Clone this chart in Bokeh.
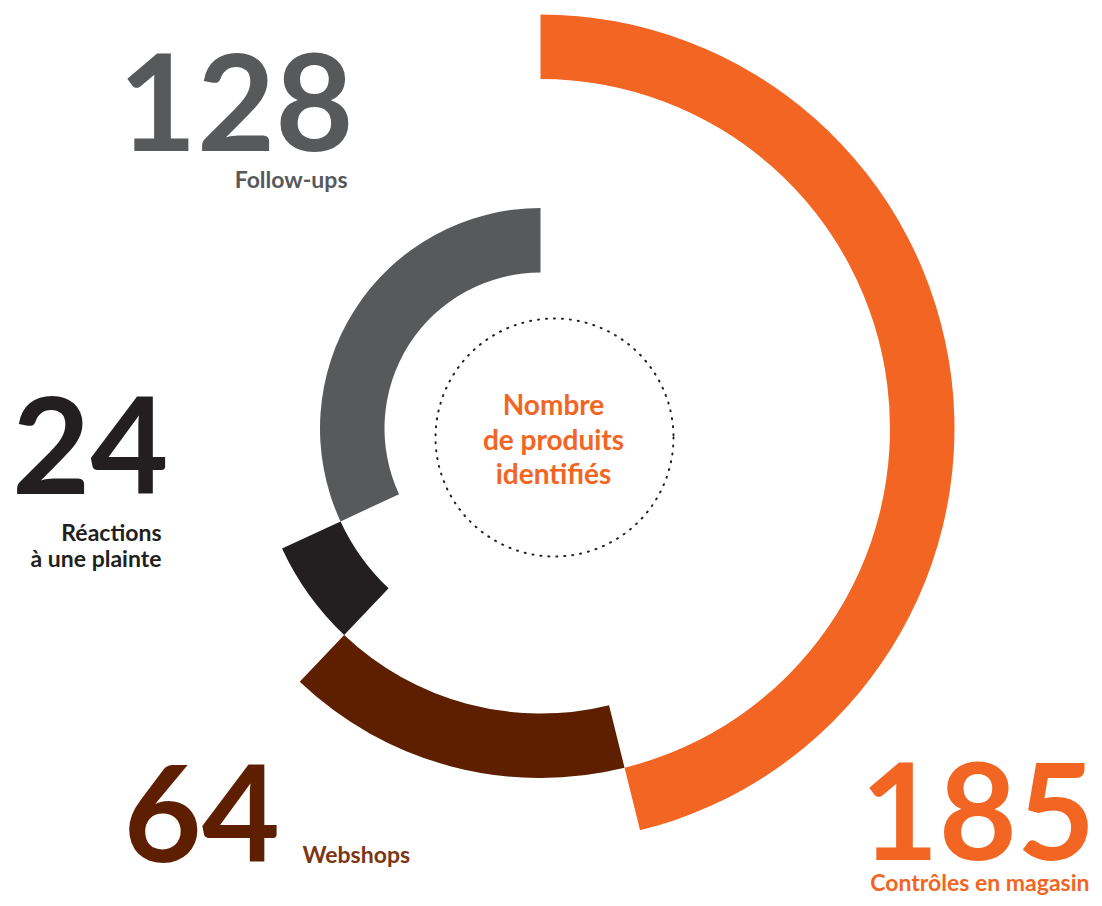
import math
from bokeh.plotting import figure
from bokeh.models import Range1d, ColumnDataSource
from bokeh.core.properties import value
from bokeh.embed import file_html
from bokeh.resources import INLINE

# ---- data ----
categories = ["Contrôles en magasin", "Webshops", "Réactions à une plainte", "Follow-ups"]
values = [185, 64, 24, 128]
colors = ["#f26522", "#5e1e00", "#231f20", "#58595b"]
label_colors = ["#f26522", "#7a3712", "#231f20", "#58595b"]
ring_index = [3, 2, 1, 0]
center_title = ["Nombre", "de produits", "identifiés"]
label_lines = [["Contrôles en magasin"], ["Webshops"], ["Réactions", "à une plainte"], ["Follow-ups"]]

W, H = 1094, 898
def Y(ys):
    return H - ys

p = figure(width=W, height=H, output_backend="svg", toolbar_location=None,
           x_range=Range1d(0, W), y_range=Range1d(0, H), min_border=0)
p.axis.visible = False
p.grid.visible = False
p.outline_line_color = None
p.background_fill_color = "white"
p.border_fill_color = "white"

cx, cy = 540, Y(428)
r0, rw = 156, 64.5
total = sum(values)
starts, ends, inner, outer = [], [], [], []
acc = 0
for v, ri in zip(values, ring_index):
    a0 = acc / total * 2 * math.pi
    acc += v
    a1 = acc / total * 2 * math.pi
    starts.append(math.pi / 2 - a1)
    ends.append(math.pi / 2 - a0)
    inner.append(r0 + rw * ri)
    outer.append(r0 + rw * (ri + 1))

src = ColumnDataSource(dict(cat=categories, val=values, color=colors,
                            start=starts, end=ends, inner=inner, outer=outer,
                            x=[cx] * 4, y=[cy] * 4))
p.annular_wedge(x="x", y="y", inner_radius="inner", outer_radius="outer",
                start_angle="start", end_angle="end", direction="anticlock",
                fill_color="color", line_color=None, source=src)

# dotted circle
p.circle(x=[554], y=[Y(437)], radius=119, fill_color=None, line_color="#231f20",
         line_width=2, line_dash="1 7", line_cap="round")

FONT = value("Lato")

def base(ys, size, k):
    # baseline in picture px -> data y, compensating renderer's baseline offset
    return Y(ys - k * size)

# center title
CS = 28
p.text(x=[553] * 3, y=[base(v, CS, 0.43) for v in (416, 451, 485)], text=center_title,
       text_font=FONT, text_font_style="bold", text_font_size=f"{CS}px",
       text_color="#f26522", text_align="center", text_baseline="alphabetic")

# big numbers
BS = 135
num_x = [860, 123, 168, 353]
num_y = [860, 862, 494, 151.5]
num_align = ["left", "left", "right", "right"]
for v, c, x, y, al in zip(values, colors, num_x, num_y, num_align):
    p.text(x=[x], y=[base(y, BS, 0.37)], text=[str(v)], text_font=FONT, text_font_style="bold",
           text_font_size=f"{BS}px", text_color=c, text_align=al, text_baseline="alphabetic")

# small labels
LS = 23
lab_pos = [
    ([1089], [891], "right"),
    ([302], [863], "left"),
    ([161, 161], [541, 567], "right"),
    ([347], [188], "right"),
]
for lines, c, (xs, ys, al) in zip(label_lines, label_colors, lab_pos):
    p.text(x=xs, y=[base(v, LS, 0.43) for v in ys], text=lines, text_font=FONT, text_font_style="bold",
           text_font_size=f"{LS}px", text_color=c, text_align=al, text_baseline="alphabetic")

open("out.html", "w").write(file_html(p, INLINE))
